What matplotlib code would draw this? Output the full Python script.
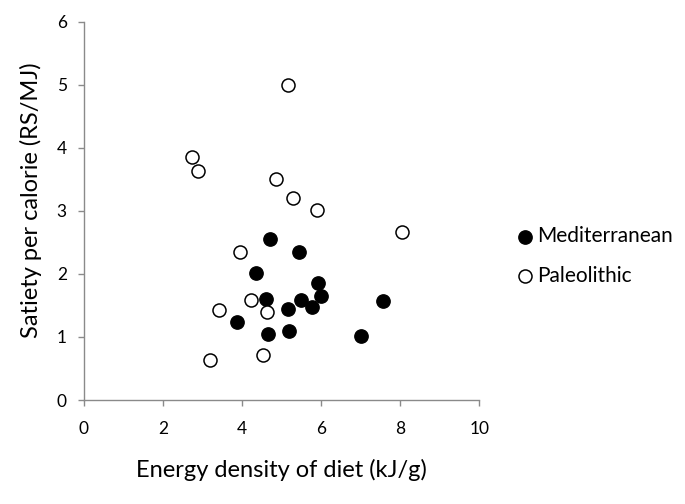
import numpy as np
import matplotlib.pyplot as plt

plt.rcParams['font.family'] = ['Lato', 'DejaVu Sans']

# Dane
med_x = [4.71, 5.44, 4.35, 5.92, 5.99, 4.60, 5.48, 5.78, 5.15, 7.57, 3.86, 4.66, 5.19, 7.02]
med_y = [2.56, 2.34, 2.01, 1.85, 1.65, 1.61, 1.58, 1.48, 1.44, 1.57, 1.23, 1.05, 1.09, 1.02]

pal_x = [5.15, 2.72, 2.89, 4.87, 5.30, 5.89, 8.04, 3.95, 4.22, 3.42, 4.64, 3.19, 4.54]
pal_y = [5.00, 3.85, 3.63, 3.51, 3.20, 3.01, 2.67, 2.34, 1.59, 1.42, 1.40, 0.63, 0.71]

x_ticks = [0, 2, 4, 6, 8, 10]
y_ticks = [0, 1, 2, 3, 4, 5, 6]

fig = plt.figure(figsize=(6.85, 5.04), dpi=100)
ax = fig.add_axes([0.1226, 0.2063, 0.5771, 0.7507])

ax.scatter(med_x, med_y, s=92, c='black', edgecolors='black', linewidths=1, label='Mediterranean', zorder=3)
ax.scatter(pal_x, pal_y, s=88, c='white', edgecolors='black', linewidths=1.1, label='Paleolithic', zorder=3)

ax.set_xlim(0, 10)
ax.set_ylim(0, 6)
ax.set_xticks(x_ticks)
ax.set_yticks(y_ticks)

grey = '#8a8a8a'
for side in ['top', 'right']:
    ax.spines[side].set_visible(False)
for side in ['left', 'bottom']:
    ax.spines[side].set_color(grey)
    ax.spines[side].set_linewidth(1)
ax.tick_params(direction='out', length=4.3, width=1, color=grey, labelsize=12.5)
ax.tick_params(axis='x', pad=11)
ax.tick_params(axis='y', pad=8)

ax.set_xlabel('Energy density of diet (kJ/g)', fontsize=17, va='center')
ax.set_ylabel('Satiety per calorie (RS/MJ)', fontsize=17, va='center')
ax.xaxis.set_label_coords(0.5, -0.185)
ax.yaxis.set_label_coords(-0.134, 0.529)

ax.legend(loc='center left', bbox_to_anchor=(0.736, 0.492), bbox_transform=fig.transFigure,
          frameon=False, fontsize=15, handletextpad=0.0, labelspacing=0.95, borderaxespad=0,
          handlelength=1.2)

fig.savefig('out.png', dpi=100)
